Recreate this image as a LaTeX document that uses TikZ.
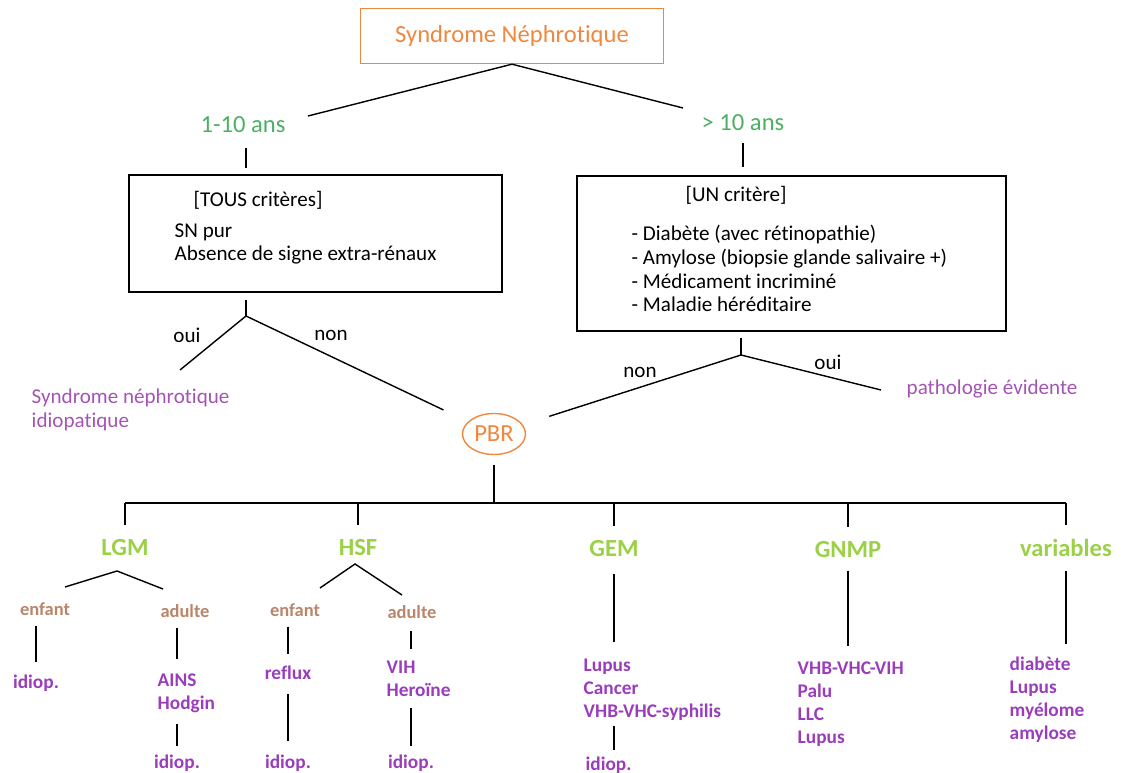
\documentclass[tikz,border=0pt]{standalone}
\usepackage{fontspec}
\setmainfont{Carlito}[Ligatures=NoCommon]
\usepackage{xcolor}
\usetikzlibrary{shapes.geometric}
\definecolor{snorange}{HTML}{F0873F}
\definecolor{agegreen}{HTML}{4CB064}
\definecolor{catlime}{HTML}{9BD147}
\definecolor{agebrown}{HTML}{B9866B}
\definecolor{diagpurple}{HTML}{A354B5}
\definecolor{listpurple}{HTML}{9A3DBB}

\begin{document}
\begin{tikzpicture}[x=0.02cm, y=-0.02cm, line width=0.8pt,
	txt/.style={inner sep=0pt, align=left, font=\fontsize{12}{13.6}\selectfont},
	age/.style={inner sep=0pt, text=agegreen, font=\fontsize{14}{17}\selectfont},
	cat/.style={inner sep=0pt, text=catlime, font=\fontsize{14}{17}\selectfont\bfseries},
	who/.style={inner sep=0pt, text=agebrown, font=\fontsize{10.5}{12.6}\selectfont\bfseries},
	cause/.style={inner sep=0pt, align=left, text=listpurple, font=\fontsize{11}{13.1}\selectfont\bfseries}]
	\useasboundingbox (0,0) rectangle (1137,773);

	% haut
	\node[draw=snorange, text=snorange, minimum width=6.06cm, minimum height=1.1cm,
	  font=\fontsize{14}{17}\selectfont] (sn) at (512,36) {Syndrome Néphrotique};
	\node[age] (age1) at (243,125) {1-10 ans};
	\node[age] (age2) at (743,123) {> 10 ans};
	\coordinate (e1) at (308,116);
	\coordinate (e2) at (683,108);
	\draw (sn.south) -- (e1);
	\draw (sn.south) -- (e2);

	% criteres
	\node[draw, minimum width=7.46cm, minimum height=2.34cm] (box1) at (315.5,233.5) {};
	\node[draw, minimum width=8.58cm, minimum height=3.1cm] (box2) at (791.5,253.5) {};
	\node[txt, anchor=west] (tous) at (193,200) {[TOUS critères]};
	\node[txt, anchor=west] (pur) at (174,244) {SN pur\\Absence de signe extra-rénaux};
	\node[txt, anchor=west] (un) at (685,195) {[UN critère]};
	\node[txt, anchor=west] (crit) at (631,268.5) {- Diabète (avec rétinopathie)\\- Amylose (biopsie glande salivaire +)\\- Médicament incriminé\\- Maladie héréditaire};
	\draw[shorten <=8pt, shorten >=3.4pt] (age1.south -| 246,0) -- (box1.north -| 246,0);
	\draw[shorten <=6.4pt, shorten >=4.5pt] (age2.south) -- (age2.south |- box2.north);

	% oui / non
	\coordinate (j1) at (246,316);
	\coordinate (j2) at (741,355);
	\draw[shorten <=4pt] (box1.south -| j1) -- (j1);
	\draw[shorten <=3.4pt] (box2.south -| j2) -- (j2);
	\node[txt] (oui1) at (187,335) {oui};
	\node[txt] (non1) at (331,335) {non};
	\node[txt] (non2) at (640,372) {non};
	\node[txt] (oui2) at (828,362) {oui};
	\node[txt, text=diagpurple, anchor=west] (idio) at (31,410) {Syndrome néphrotique\\idiopatique};
	\node[txt, text=diagpurple, anchor=west] (evid) at (906,389) {pathologie évidente};
	\node[ellipse, draw=snorange, text=snorange, inner sep=0pt, minimum width=1.26cm, minimum height=0.82cm,
	  font=\fontsize{14}{17}\selectfont] (pbr) at (494,434) {PBR};
	\coordinate (e3) at (180,370);
	\coordinate (e4) at (881,390);
	\draw (j1) -- (e3);
	\draw[shorten >=15.4pt] (j1) -- (pbr);
	\draw (j2) -- (e4);
	\draw[shorten >=15.7pt] (j2) -- (pbr);

	% PBR
	\coordinate (bar) at (494,503);
	\draw[shorten <=5.4pt] (pbr.south) -- (bar);
	\node[cat] (lgm) at (125,548) {LGM};
	\node[cat] (hsf) at (358,548) {HSF};
	\node[cat] (gem) at (614,549) {GEM};
	\node[cat] (gnmp) at (848,550) {GNMP};
	\node[cat] (var) at (1066,548) {variables};
	\draw (bar -| lgm) -- (bar -| var);
	\foreach \c in {lgm,hsf,gem,gnmp,var}
	  \draw[shorten >=8pt] (bar -| \c) -- (\c.north);

	% LGM, HSF
	\coordinate (lgm0) at (117,571);
	\coordinate (lgm1) at (65,587);
	\coordinate (lgm2) at (163,589);
	\coordinate (hsf0) at (355,564);
	\coordinate (hsf1) at (320,588);
	\coordinate (hsf2) at (402,595);
	\draw (lgm1) -- (lgm0) -- (lgm2);
	\draw (hsf1) -- (hsf0) -- (hsf2);
	\node[who] (lgmE) at (45,609) {enfant};
	\node[who] (lgmA) at (185,611) {adulte};
	\node[who] (hsfE) at (295,610) {enfant};
	\node[who] (hsfA) at (412,612) {adulte};

	\node[cause] (lgmEi) at (36,683) {idiop.};
	\node[cause, anchor=west] (lgmAc) at (157,693) {AINS\\Hodgin};
	\node[cause] (lgmAi) at (177,763) {idiop.};
	\node[cause] (hsfEc) at (288,673) {reflux};
	\node[cause] (hsfEi) at (288,763) {idiop.};
	\node[cause, anchor=west] (hsfAc) at (386,679) {VIH\\Heroïne};
	\node[cause] (hsfAi) at (411,763) {idiop.};
	\node[cause, anchor=west] (gemC) at (583,690) {Lupus\\Cancer\\VHB-VHC-syphilis};
	\node[cause, anchor=west] (gemI) at (585,765) {idiop.};
	\node[cause, anchor=west] (gnmpC) at (797,704) {VHB-VHC-VIH\\Palu\\LLC\\Lupus};
	\node[cause, anchor=west] (varC) at (1009,700) {diabète\\Lupus\\myélome\\amylose};

	\draw[shorten <=5.4pt, shorten >=6.8pt] (lgmE.south -| lgmEi) -- (lgmEi.north);
	\draw[shorten <=5.4pt, shorten >=8pt] (lgmA.south -| lgmAi) -- (lgmAc.north -| lgmAi);
	\draw[shorten <=6.3pt, shorten >=4.5pt] (lgmAc.south -| lgmAi) -- (lgmAi.north);
	\draw[shorten <=5.4pt, shorten >=6.3pt] (hsfE.south -| hsfEc) -- (hsfEc.north);
	\draw[shorten <=7.7pt, shorten >=7.4pt] (hsfEc.south) -- (hsfEi.north);
	\draw[shorten <=6.5pt, shorten >=6.6pt] (hsfA.south -| hsfAi) -- (hsfAc.north -| hsfAi);
	\draw[shorten <=5.7pt, shorten >=4.5pt] (hsfAc.south -| hsfAi) -- (hsfAi.north);
	\draw[shorten <=9.1pt, shorten >=9.4pt] (gem.south) -- (gemC.north -| gem);
	\draw[shorten <=2.3pt, shorten >=3.4pt] (gemC.south -| gem) -- (gemI.north -| gem);
	\draw[shorten <=6.8pt, shorten >=8.3pt] (gnmp.south) -- (gnmpC.north -| gnmp);
	\draw[shorten <=7.7pt, shorten >=7.1pt] (var.south) -- (varC.north -| var);
\end{tikzpicture}
\end{document}
